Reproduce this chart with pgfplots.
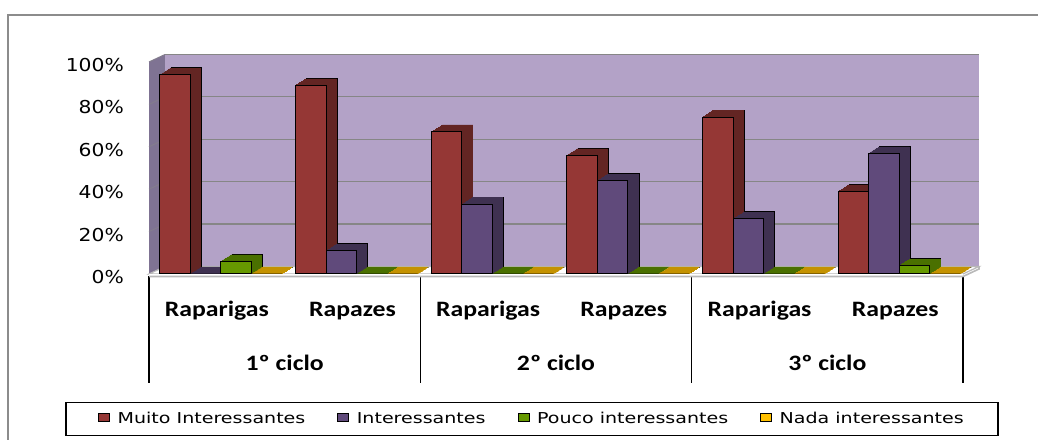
\documentclass[border=0pt]{standalone}
\usepackage{fontspec}
\usepackage{pgfplots}
\usepackage{pgfplotstable}
\pgfplotsset{compat=1.18}
\newfontfamily\tickfont[FakeStretch=1.14]{DejaVu Sans}
\newfontfamily\legfont[FakeStretch=1.27]{DejaVu Sans}
\newfontfamily\catfont[FakeStretch=1.17]{Carlito}
\definecolor{redF}{HTML}{953735}
\definecolor{redS}{HTML}{632523}
\definecolor{purF}{HTML}{604A7B}
\definecolor{purS}{HTML}{3F3151}
\definecolor{grnF}{HTML}{669900}
\definecolor{grnS}{HTML}{4A7000}
\definecolor{yelF}{HTML}{FFC000}
\definecolor{yelS}{HTML}{C49200}
\definecolor{wall}{HTML}{B3A2C7}
\definecolor{lwall}{HTML}{7F7393}
\definecolor{gridc}{HTML}{868686}
\definecolor{framec}{HTML}{8C8C8C}

\pgfplotstableread{
x   m  i  p  n
0.5 94 0  6  0
1.5 89 11 0  0
2.5 67 33 0  0
3.5 56 44 0  0
4.5 74 26 0  0
5.5 39 57 4  0
}\data

\pgfplotsset{leg/.style={legend image code/.code={\draw[##1,draw=black,line width=1bp] (0bp,-2.5bp) rectangle (11bp,5.5bp); \path[draw=none,fill=none] (0bp,0bp) -- (17bp,0bp);}}}

\newcommand\series[5]{%
 \addplot[forget plot, fill=#3, draw=black, line width=0.8bp, bar shift=#4, xshift=11bp, yshift=7bp] table[x=x,y=#1]{\data};
 \pgfplotsinvokeforeach{10,9,...,1}{\addplot[forget plot, fill=#3, draw=#3, line width=0.5bp, bar shift=#4, xshift=##1bp, yshift=##1*0.64bp] table[x=x,y=#1]{\data};}
 \addplot[fill=#2, draw=black, line width=1bp, bar shift=#4, leg] table[x=x,y=#1]{\data};
 \addlegendentry{#5}
}

\begin{document}
\begin{tikzpicture}[x=1bp,y=1bp]
\useasboundingbox (0,0) rectangle (1038,440);
\draw[framec, line width=2bp] (8,0) -- (8,425) -- (1038,425);
\begin{axis}[
 at={(149bp,166bp)}, anchor=south west,
 scale only axis, width=814bp, height=212bp,
 xmin=0, xmax=6, ymin=0, ymax=100,
 clip=false,
 axis x line*=bottom, axis y line*=left,
 axis line style={draw=none},
 ybar, bar width=30.5bp,
 xtick={0.5,1.5,...,5.5},
 xticklabels={Raparigas,Rapazes,Raparigas,Rapazes,Raparigas,Rapazes},
 xticklabel style={font=\catfont\bfseries\fontsize{22bp}{26bp}\selectfont, anchor=base, yshift=-43bp},
 extra x ticks={1,3,5},
 extra x tick labels={1º ciclo,2º ciclo,3º ciclo},
 extra x tick style={major tick length=0pt, xticklabel style={yshift=-54bp}},
 minor xtick={0,2,4,6}, minor tick length=106bp, tick align=outside,
 minor tick style={black, line width=1.6bp, yshift=-2.5bp}, major tick length=0pt,
 ytick={0,20,...,100},
 yticklabels={0\%,20\%,40\%,60\%,80\%,100\%},
 yticklabel style={font=\tickfont\fontsize{17.8bp}{20bp}\selectfont, inner sep=0pt, xshift=-25bp, yshift=-3bp},
 legend columns=4,
 legend cell align=left,
 legend style={at={(0.4705,-0.684)}, anchor=center, draw=black, line width=1.5bp,
   inner xsep=32bp, inner ysep=8bp, font=\legfont\fontsize{15bp}{18bp}\selectfont,
   /tikz/every even column/.append style={column sep=30bp}},
]
\fill[lwall] (axis cs:0,0) -- ([shift={(16bp,7.5bp)}]axis cs:0,0) -- ([shift={(16bp,7.5bp)}]axis cs:0,100) -- (axis cs:0,100) -- cycle;
\fill[wall] ([shift={(16bp,7.5bp)}]axis cs:0,0) rectangle ([shift={(16bp,7.5bp)}]axis cs:6,100);
\pgfplotsinvokeforeach{20,40,60,80,100}{
 \draw[gridc, line width=1.2bp] ([shift={(16bp,7.5bp)}]axis cs:0,#1) -- ([shift={(16bp,7.5bp)}]axis cs:6,#1);
 \draw[gridc!50!lwall, line width=1bp] (axis cs:0,#1) -- ([shift={(16bp,7.5bp)}]axis cs:0,#1);
}
\filldraw[fill=white, draw=gray!55, line width=1.2bp] (axis cs:0,0) -- (axis cs:6,0) -- ([shift={(16bp,7.5bp)}]axis cs:6,0) -- ([shift={(16bp,7.5bp)}]axis cs:0,0) -- cycle;
\fill[white] ([yshift=-2.5bp]axis cs:0,0) rectangle (axis cs:6,0);
\draw[gray!55, line width=1.6bp] ([yshift=-2.5bp]axis cs:0,0) -- ([yshift=-2.5bp]axis cs:6,0) -- ([shift={(16bp,5bp)}]axis cs:6,0) -- ([shift={(16bp,7.5bp)}]axis cs:6,0);
\series{m}{redF}{redS}{-41.6bp}{Muito Interessantes}
\series{i}{purF}{purS}{-11.1bp}{Interessantes}
\series{p}{grnF}{grnS}{19.4bp}{Pouco interessantes}
\series{n}{yelF}{yelS}{49.9bp}{Nada interessantes}
\end{axis}
\end{tikzpicture}
\end{document}
